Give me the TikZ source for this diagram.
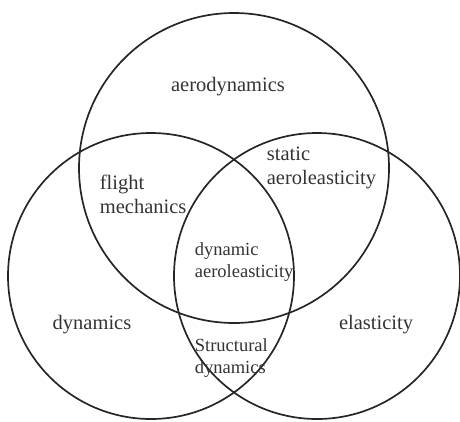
\documentclass[tikz,border=0pt]{standalone}
\usepackage{fontspec}
\setmainfont{Liberation Serif}
\usetikzlibrary{positioning}

\begin{document}
\begin{tikzpicture}[x=1pt, y=-1pt, line width=1.7pt,
  every node/.style={inner sep=0pt, align=left, font=\fontsize{20.5}{24}\selectfont, text=black!80},
  inner/.style={font=\fontsize{18.5}{22}\selectfont},
  ring/.style={draw=black!85}]
  \useasboundingbox (0,0) rectangle (460,421);
  \coordinate (top) at (234,168);
  \coordinate (left) at (151,276);
  \coordinate (right) at (317,276);
  \draw[ring] (top) circle[radius=155pt];
  \draw[ring] (left) circle[radius=143pt];
  \draw[ring] (right) circle[radius=143pt];
  \node (aero) at (228,87) {aerodynamics};
  \node[anchor=west] (static) at (266,168) {static\\aeroleasticity};
  \node[anchor=west] (flight) at (99,194) {flight\\mechanics};
  \node[inner, anchor=west] (dynaero) at (194,262) {dynamic\\aeroleasticity};
  \node (dyn) at (92,325) {dynamics};
  \node (elast) at (376,325) {elasticity};
  \node[inner, anchor=west] (struct) at (194,358) {Structural\\dynamics};
\end{tikzpicture}
\end{document}
